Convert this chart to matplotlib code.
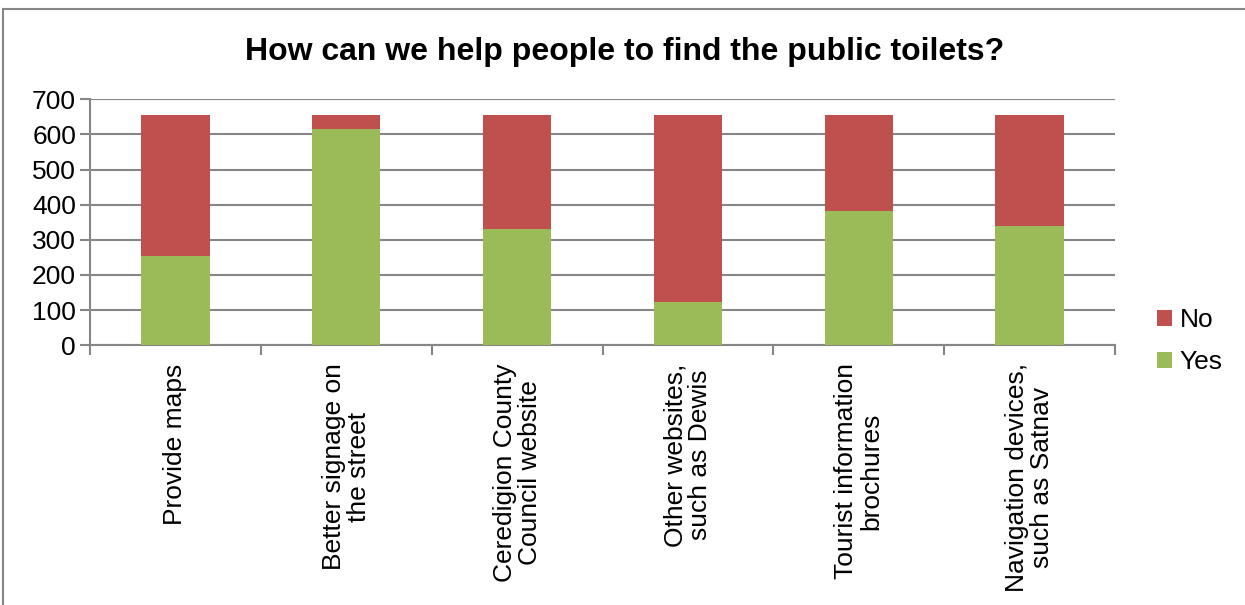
import matplotlib
matplotlib.use("Agg")
import matplotlib.pyplot as plt
from matplotlib.patches import Rectangle

categories = [
    "Provide maps",
    "Better signage on\nthe street",
    "Ceredigion County\nCouncil website",
    "Other websites,\nsuch as Dewis",
    "Tourist information\nbrochures",
    "Navigation devices,\nsuch as Satnav",
]
yes = [255, 615, 330, 123, 383, 339]
total = [655, 655, 655, 655, 655, 655]
no = [t - y for t, y in zip(total, yes)]

plt.rcParams['font.family'] = ['Liberation Sans', 'DejaVu Sans']

fig = plt.figure(figsize=(12.45, 6.05), dpi=100, facecolor='white')
ax = fig.add_axes([0.0723, 0.4293, 0.8233, 0.4066])

x = list(range(len(categories)))
b_yes = ax.bar(x, yes, width=0.4, color='#9BBB59', label='Yes', zorder=3)
b_no = ax.bar(x, no, width=0.4, bottom=yes, color='#C0504D', label='No', zorder=3)

ax.set_xlim(-0.5, len(categories) - 0.5)
ax.set_ylim(0, 700)
ax.set_yticks(range(0, 701, 100))
ax.yaxis.grid(True, color='#868686', linewidth=1.5, zorder=0)
ax.set_axisbelow(True)

# tick marks at category boundaries, labels at centres
ax.set_xticks(x)
ax.set_xticklabels(categories, rotation=90, ha='center', va='top',
                   multialignment='center', fontsize=19, linespacing=1.05)
ax.set_xticks([i - 0.5 for i in range(len(categories) + 1)], minor=True)
ax.tick_params(axis='x', which='major', length=0, pad=13)
ax.tick_params(axis='x', which='minor', length=7, width=1.5, color='#868686', direction='out')
ax.tick_params(axis='y', length=7, width=1.5, color='#868686', labelsize=19, pad=3)

for side in ['top', 'right']:
    ax.spines[side].set_visible(False)
for side in ['left', 'bottom']:
    ax.spines[side].set_color('#868686')
    ax.spines[side].set_linewidth(1.5)

fig.text(0.502, 0.914, "How can we help people to find the public toilets?",
         ha='center', va='center', fontsize=23, fontweight='bold')

leg = fig.legend([b_no, b_yes], ['No', 'Yes'], loc='center left',
                 bbox_to_anchor=(0.921, 0.436), frameon=False, fontsize=19,
                 handlelength=0.55, handleheight=0.55, handletextpad=0.3,
                 labelspacing=0.7, borderaxespad=0)

# chart area border
fig.patches.append(Rectangle((3 / 1245, -0.1), 1.2, 1.1 - 9 / 605, transform=fig.transFigure,
                             fill=False, edgecolor='#868686', linewidth=1.5))

fig.savefig("out.png", dpi=100, facecolor='white')
